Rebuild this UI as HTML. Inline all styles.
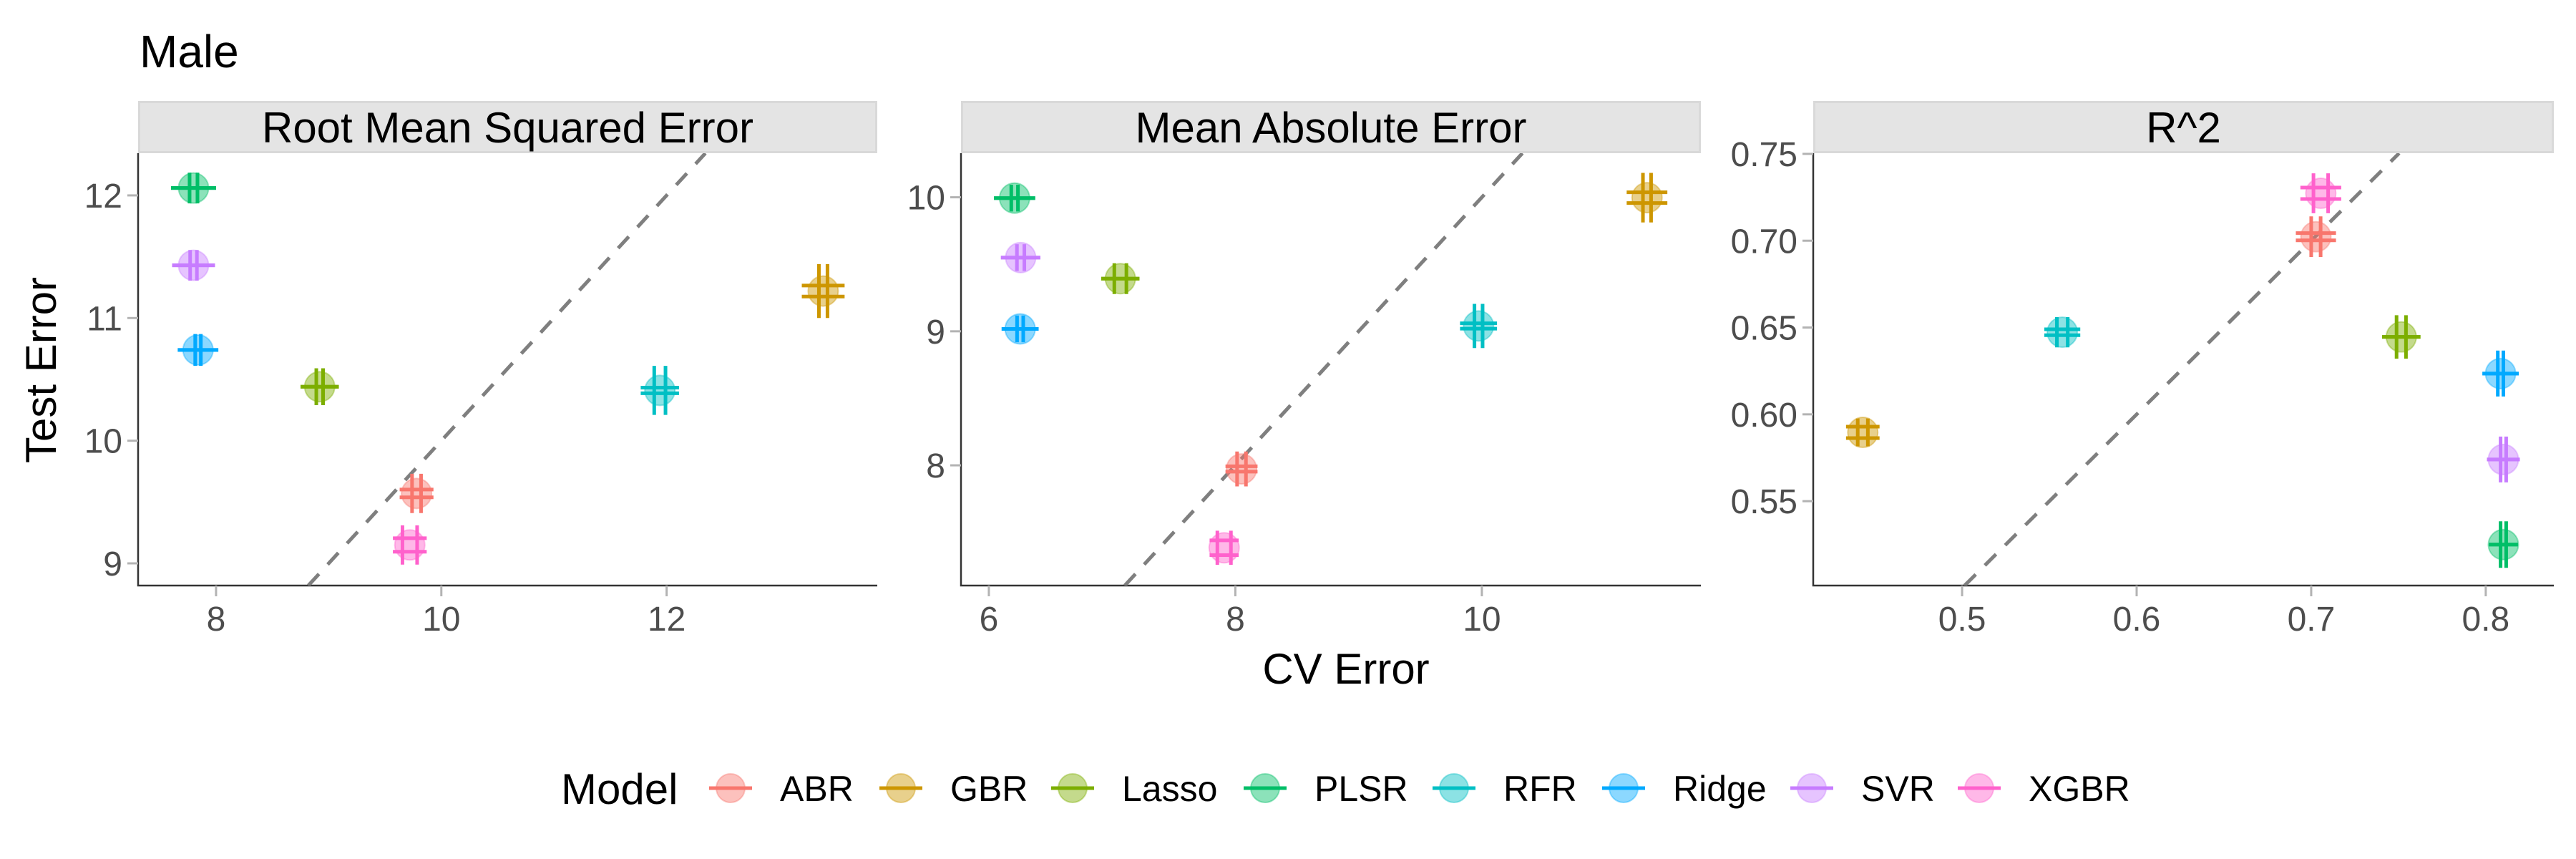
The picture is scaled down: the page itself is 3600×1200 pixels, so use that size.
<!DOCTYPE html>
<html><head><meta charset="utf-8"><style>
html,body{margin:0;padding:0;background:#fff;}
svg{display:block;font-family:"Liberation Sans",sans-serif;}
</style></head><body>
<svg id="chart" width="3600" height="1200" viewBox="0 0 3600 1200">
<text x="195" y="94" font-size="64" fill="#000">Male</text>
<text transform="translate(78,517) rotate(-90)" text-anchor="middle" font-size="60" fill="#000">Test Error</text>
<text x="1881" y="955" text-anchor="middle" font-size="60" fill="#000">CV Error</text>
<g id="legend"></g>
</svg>
<script>
const models = ["ABR","GBR","Lasso","PLSR","RFR","Ridge","SVR","XGBR"];
const colors = ["#F8766D","#CD9600","#7CAE00","#00BE67","#00BFC4","#00A9FF","#C77CFF","#FF61CC"];
const panelTitles = ["Root Mean Squared Error","Mean Absolute Error","R^2"];
// Panel 1: RMSE
const rmseCV   = [9.78, 13.39, 8.92, 7.80, 11.94, 7.84, 7.80, 9.72];
const rmseTest = [9.57, 11.22, 10.44, 12.06, 10.41, 10.74, 11.43, 9.15];
const rmseCVHalf   = [0.15, 0.19, 0.17, 0.2, 0.17, 0.18, 0.19, 0.15];
const rmseTestHalf = [0.16, 0.22, 0.15, 0.125, 0.2, 0.13, 0.125, 0.16];
const rmseCVSplit   = [0.04, 0.038, 0.03, 0.035, 0.05, 0.025, 0.03, 0.065];
const rmseTestSplit = [0.032, 0.045, 0, 0, 0.023, 0, 0, 0.055];
const rmseXTicks = [8, 10, 12];
const rmseYTicks = [9, 10, 11, 12];
// Panel 2: MAE
const maeCV   = [8.05, 11.34, 7.067, 6.209, 9.973, 6.254, 6.258, 7.909];
const maeTest = [7.973, 9.997, 9.393, 9.994, 9.04, 9.018, 9.55, 7.385];
const maeCVHalf   = [0.13, 0.165, 0.155, 0.167, 0.15, 0.15, 0.16, 0.118];
const maeTestHalf = [0.13, 0.185, 0.115, 0.1, 0.165, 0.1, 0.1, 0.127];
const maeCVSplit   = [0.036, 0.033, 0.049, 0.027, 0.033, 0.025, 0.03, 0.055];
const maeTestSplit = [0.02, 0.04, 0, 0, 0.02, 0, 0, 0.055];
const maeXTicks = [6, 8, 10];
const maeYTicks = [8, 9, 10];
// Panel 3: R^2
const r2CV   = [0.7027, 0.4431, 0.7516, 0.8101, 0.5574, 0.8085, 0.8101, 0.7055];
const r2Test = [0.7023, 0.5896, 0.6446, 0.5250, 0.6473, 0.6235, 0.574, 0.7273];
const r2CVHalf   = [0.0115, 0.0096, 0.011, 0.0083, 0.0103, 0.0104, 0.0094, 0.0117];
const r2TestHalf = [0.0117, 0.008, 0.0125, 0.0134, 0.0087, 0.0132, 0.0132, 0.0115];
const r2CVSplit   = [0.0027, 0.0029, 0.0027, 0.0016, 0.0031, 0.0016, 0.0016, 0.0042];
const r2TestSplit = [0.0021, 0.0033, 0, 0, 0.0017, 0, 0, 0.0033];
const r2XTicks = [0.5, 0.6, 0.7, 0.8];
const r2YTicks = [0.55, 0.60, 0.65, 0.70, 0.75];

const NS = "http://www.w3.org/2000/svg";
const svg = document.getElementById("chart");
function mk(tag, attrs, parent){
  const e = document.createElementNS(NS, tag);
  for (const k in attrs) e.setAttribute(k, attrs[k]);
  (parent||svg).appendChild(e);
  return e;
}
const panels = [
  {title: panelTitles[0], px0:193, px1:1226, xd:[7.308,13.87], yd:[8.819,12.344], cv:rmseCV, te:rmseTest, ch:rmseCVHalf, th:rmseTestHalf, cs:rmseCVSplit, ts:rmseTestSplit, xt:rmseXTicks, yt:rmseYTicks, fmt:v=>String(v)},
  {title: panelTitles[1], px0:1343, px1:2377, xd:[5.774,11.777], yd:[7.103,10.329], cv:maeCV, te:maeTest, ch:maeCVHalf, th:maeTestHalf, cs:maeCVSplit, ts:maeTestSplit, xt:maeXTicks, yt:maeYTicks, fmt:v=>String(v)},
  {title: panelTitles[2], px0:2534, px1:3569, xd:[0.4147,0.839], yd:[0.5014,0.7504], cv:r2CV, te:r2Test, ch:r2CVHalf, th:r2TestHalf, cs:r2CVSplit, ts:r2TestSplit, xt:r2XTicks, yt:r2YTicks, fmt:v=>v.toFixed(v<0.75||v>0.75?2:2)}
];
const PT = 214, PB = 818, ST = 141;
panels.forEach((p, pi) => {
  const g = mk("g", {});
  
  
  const sx = v => p.px0 + (v - p.xd[0]) / (p.xd[1] - p.xd[0]) * (p.px1 - p.px0);
  const sy = v => PB - (v - p.yd[0]) / (p.yd[1] - p.yd[0]) * (PB - PT);
  const clip = mk("clipPath", {id: "clip" + pi}, g);
  mk("rect", {x: p.px0, y: PT, width: p.px1 - p.px0, height: PB - PT}, clip);
  // strip
  const strip = mk("rect", {x: p.px0 + 1.5, y: ST + 1.5, width: p.px1 - p.px0 - 3, height: PT - ST - 3, fill: "#e4e4e4", stroke: "#d9d9d9", "stroke-width": 3}, g);
  
  
  const st = mk("text", {x: (p.px0 + p.px1) / 2, y: 199, "text-anchor": "middle", "font-size": 60, fill: "#000"}, g);
  st.textContent = p.title;
  
  
  // axes
  const ax = mk("path", {d: `M${p.px0},${PT} V${PB} H${p.px1}`, fill: "none", stroke: "#333", "stroke-width": 2.5}, g);
  
  
  p.xt.forEach(v => {
    const x = sx(v);
    const t = mk("line", {x1: x, x2: x, y1: PB, y2: PB + 15, stroke: "#b3b3b3", "stroke-width": 3}, g);
    
    
    const l = mk("text", {x: x, y: PB + 63, "text-anchor": "middle", "font-size": 48, fill: "#4d4d4d"}, g);
    l.textContent = pi === 2 ? v.toFixed(1) : String(v);
    
    
  });
  p.yt.forEach(v => {
    const y = sy(v);
    const t = mk("line", {x1: p.px0 - 15, x2: p.px0, y1: y, y2: y, stroke: "#b3b3b3", "stroke-width": 3}, g);
    
    
    const l = mk("text", {x: p.px0 - 22, y: y + 17, "text-anchor": "end", "font-size": 48, fill: "#4d4d4d"}, g);
    l.textContent = pi === 2 ? v.toFixed(2) : String(v);
    
    
  });
  // identity line
  const lo = Math.max(p.xd[0], p.yd[0]), hi = Math.min(p.xd[1], p.yd[1]);
  const dl = mk("line", {x1: sx(lo), y1: sy(lo), x2: sx(hi), y2: sy(hi), stroke: "#7f7f7f", "stroke-width": 5, "stroke-dasharray": "22 18", "clip-path": `url(#clip${pi})`}, g);
  
  
  models.forEach((m, i) => {
    const c = colors[i];
    const mg = mk("g", {}, g);
    
    
    const cx = sx(p.cv[i]), cy = sy(p.te[i]);
    mk("circle", {cx: cx, cy: cy, r: 21, fill: c, "fill-opacity": 0.45, stroke: c, "stroke-opacity": 0.4, "stroke-width": 2}, mg);
    [-1, 1].forEach(s => {
      const vx = sx(p.cv[i] + s * p.cs[i]);
      mk("line", {x1: vx, x2: vx, y1: sy(p.te[i] - p.th[i]), y2: sy(p.te[i] + p.th[i]), stroke: c, "stroke-width": 5}, mg);
      const hy = sy(p.te[i] + s * p.ts[i]);
      mk("line", {x1: sx(p.cv[i] - p.ch[i]), x2: sx(p.cv[i] + p.ch[i]), y1: hy, y2: hy, stroke: c, "stroke-width": 5}, mg);
    });
  });
});
// legend
const lg = document.getElementById("legend");
const lt = mk("text", {x: 784, y: 1123, "font-size": 60, fill: "#000"}, lg);
lt.textContent = "Model";


const keyX = [1021, 1259, 1499, 1768, 2032, 2269, 2532, 2766];
models.forEach((m, i) => {
  const eg = mk("g", {}, lg);
  
  
  const kx = keyX[i];
  mk("circle", {cx: kx, cy: 1101, r: 20, fill: colors[i], "fill-opacity": 0.45, stroke: colors[i], "stroke-opacity": 0.4, "stroke-width": 2}, eg);
  mk("line", {x1: kx - 30, x2: kx + 30, y1: 1101, y2: 1101, stroke: colors[i], "stroke-width": 5}, eg);
  const t = mk("text", {x: kx + 69, y: 1119, "font-size": 50, fill: "#000"}, eg);
  t.textContent = m;
});
</script>
</body></html>
